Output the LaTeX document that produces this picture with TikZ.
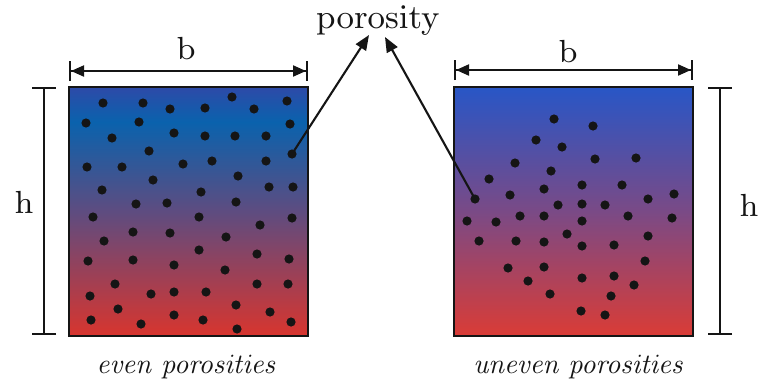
\documentclass[tikz,border=0pt]{standalone}
\usetikzlibrary{arrows.meta}
\definecolor{lbot}{HTML}{D8352E}
\definecolor{lmid}{HTML}{5E4C80}
\definecolor{lteal}{HTML}{0A62AD}
\definecolor{ltop}{HTML}{2D4AA8}
\definecolor{rbot}{HTML}{DA3C36}
\definecolor{rmid}{HTML}{7A4A86}
\definecolor{rtop}{HTML}{2856C6}
\definecolor{ink}{HTML}{151515}
\pgfdeclareverticalshading{lshade}{100bp}{color(0bp)=(lbot); color(25bp)=(lbot); color(50bp)=(lmid); color(68bp)=(lteal); color(75bp)=(ltop); color(100bp)=(ltop)}
\pgfdeclareverticalshading{rshade}{100bp}{color(0bp)=(rbot); color(25bp)=(rbot); color(50bp)=(rmid); color(75bp)=(rtop); color(100bp)=(rtop)}
\font\lblfont=cmr8 at 32pt
\font\porfont=cmr9 at 34pt
\font\capfont=cmti10 at 28pt
\begin{document}
\begin{tikzpicture}[x=1pt,y=-1pt,
  box/.style={draw=ink, line width=2.6pt, minimum width=239pt, minimum height=249pt, inner sep=0pt, shade},
  dot/.style={fill=ink},
  dimline/.style={draw=ink, line width=2pt, {Bar[width=20pt]Triangle[length=13pt,width=11pt]}-{Triangle[length=13pt,width=11pt]Bar[width=20pt]}},
  hline/.style={draw=ink, line width=2pt, {Bar[width=24pt]}-{Bar[width=24pt]}},
  pointer/.style={draw=ink, line width=2.1pt, -{Triangle[length=15pt,width=12pt]}},
  lbl/.style={font=\lblfont, text=ink, inner sep=0pt, anchor=base},
  captext/.style={font=\capfont, text=ink, inner sep=0pt, anchor=base}]
\useasboundingbox (0,0) rectangle (758,383);
% boxes
\node[box, shading=lshade] (L) at (188.5,211.5) {};
\node[box, shading=rshade] (R) at (573.5,211.5) {};
% left dots
\foreach \x/\y in {103/103,143/103,170/109,205/108,232/97,254/109,287/101,
 86/123,139/122,290/124,
 112/138,174/133,205/136,235/136,266/136,
 149/151,
 87/167,122/167,183/164,212/161,266/161,
 153/180,238/176,
 102/190,201/192,269/187,293/187,
 136/204,167/203,236/202,
 93/217,199/217,260/225,292/218,
 104/241,133/232,170/233,226/237,
 199/250,
 88/261,133/260,174/265,225/270,257/254,289/259,
 115/284,90/296,151/294,174/292,206/292,257/284,288/284,
 118/309,236/305,270/312,
 91/320,141/324,174/315,203/320,237/329,291/322}
  \fill[dot] (\x,\y) circle (4.6pt);
\fill[dot] (292,154) circle (4.6pt);
\coordinate (d1) at (292,154);
% right dots
\foreach \x/\y in {554/119,593/126,
 536/140,562/147,
 515/163,595/159,636/158,
 551/171,
 489/179,
 582/185,622/185,
 544/189,
 510/195,674/194,648/199,
 558/205,582/204,605/205,
 467/221,496/222,520/216,544/216,582/221,628/216,672/218,
 567/234,
 479/241,516/241,544/242,582/246,614/245,648/236,
 645/261,
 508/268,544/267,
 582/278,614/276,
 528/281,634/285,
 550/294,611/296,
 581/311,605/315}
  \fill[dot] (\x,\y) circle (4.6pt);
\fill[dot] (475,199) circle (4.6pt);
\coordinate (d2) at (475,199);
% width dimensions
\coordinate (bl1) at (69,71);
\coordinate (bl2) at (308,71);
\coordinate (br1) at (454,70);
\coordinate (br2) at (693,70);
\draw[dimline] (bl1) -- (bl2);
\draw[dimline] (br1) -- (br2);
\node[lbl] (bL) at (186,59) {b};
\node[lbl] (bR) at (568,62) {b};
% height dimensions
\coordinate (hl1) at (44,87);
\coordinate (hl2) at (44,335);
\coordinate (hr1) at (720,87);
\coordinate (hr2) at (720,335);
\draw[hline] (hl1) -- (hl2);
\draw[hline] (hr1) -- (hr2);
\node[lbl] (hL) at (24,213) {h};
\node[lbl] (hR) at (749,216) {h};
% porosity label and pointers
\node[lbl, font=\porfont] (por) at (378,28) {porosity};
\coordinate (pa) at (369,35);
\coordinate (pb) at (385,37);
\draw[pointer] (d1) -- (pa);
\draw[pointer] (d2) -- (pb);
% captions
\node[captext] (cL) at (186,373) {even porosities};
\node[captext] (cR) at (578,373) {uneven porosities};
\end{tikzpicture}
\end{document}
